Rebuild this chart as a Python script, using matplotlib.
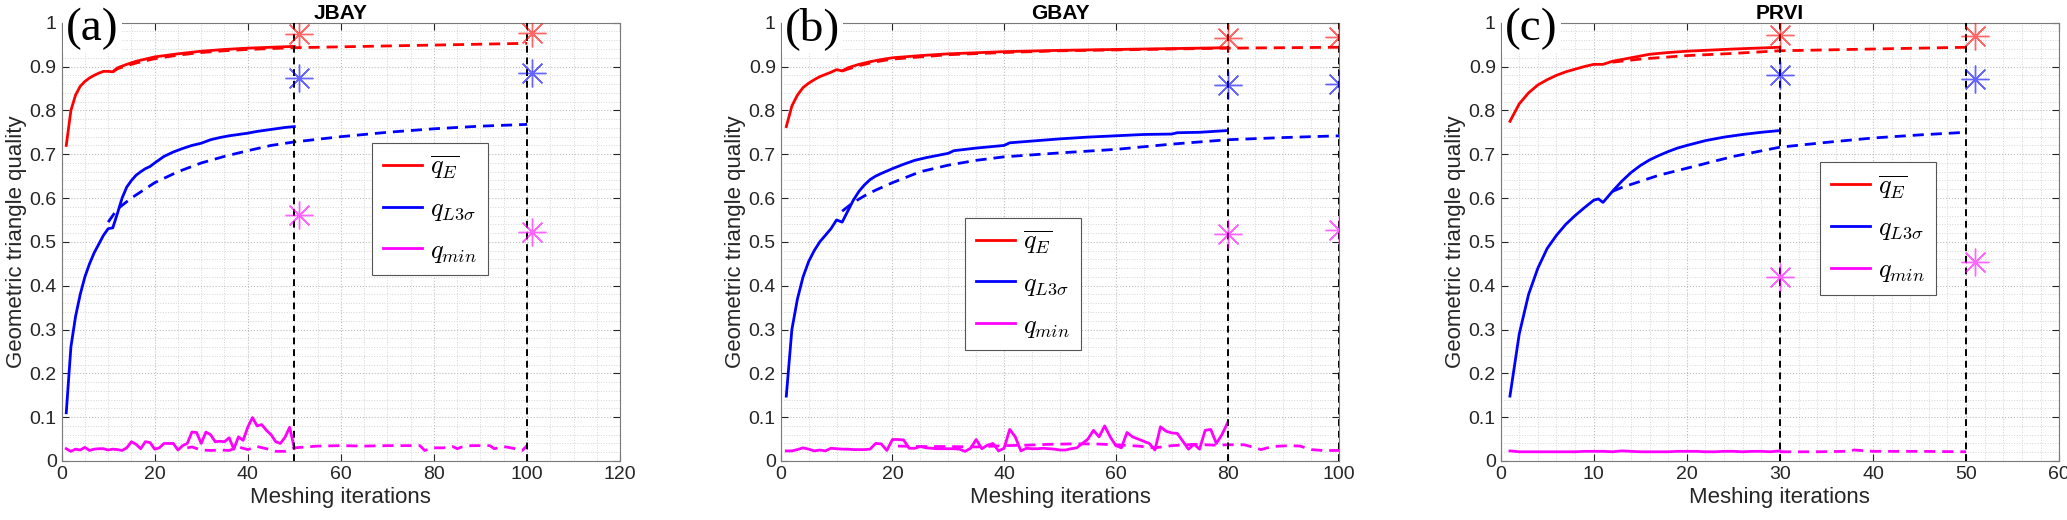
import matplotlib

matplotlib.use("Agg")
import matplotlib.pyplot as plt
import numpy as np
from matplotlib.ticker import MultipleLocator

plt.rcParams["font.family"] = ["Liberation Sans", "DejaVu Sans"]
plt.rcParams["mathtext.fontset"] = "cm"

# ---------------- (a) JBAY ----------------
A_E_X = [1, 2, 3, 4, 5, 6, 7, 8, 9, 10, 11, 12, 14, 16, 18, 20, 25, 30, 35, 40, 45, 50]
A_E_Y = [0.72, 0.80, 0.835, 0.855, 0.866, 0.874, 0.88, 0.885, 0.889, 0.889, 0.888, 0.897,
         0.905, 0.912, 0.917, 0.922, 0.929, 0.935, 0.939, 0.942, 0.944, 0.946]
A_E2_X = [11, 12, 14, 16, 18, 20, 25, 30, 35, 40, 45, 50, 60, 70, 80, 90, 100]
A_E2_Y = [0.888, 0.895, 0.902, 0.908, 0.913, 0.918, 0.926, 0.932, 0.936, 0.939, 0.941,
          0.943, 0.945, 0.947, 0.949, 0.951, 0.953]
A_L_X = [1, 2, 3, 4, 5, 6, 7, 8, 9, 10, 11, 12, 13, 14, 15, 16, 17, 18, 19, 20, 22, 24, 26,
         28, 30, 32, 34, 36, 38, 40, 42, 44, 46, 48, 50]
A_L_Y = [0.11, 0.26, 0.33, 0.38, 0.42, 0.45, 0.475, 0.495, 0.515, 0.53, 0.532, 0.565, 0.60,
         0.625, 0.64, 0.652, 0.66, 0.667, 0.672, 0.68, 0.695, 0.705, 0.713, 0.72, 0.725,
         0.733, 0.738, 0.742, 0.745, 0.748, 0.752, 0.755, 0.758, 0.761, 0.763]
A_L2_X = [10, 12, 15, 20, 25, 30, 35, 40, 45, 50, 60, 70, 80, 90, 100]
A_L2_Y = [0.545, 0.575, 0.60, 0.635, 0.66, 0.68, 0.695, 0.708, 0.72, 0.728, 0.74, 0.75,
          0.758, 0.764, 0.768]
A_M_Y = [0.028, 0.022, 0.027, 0.025, 0.031, 0.024, 0.027, 0.028, 0.028, 0.025,
         0.027, 0.026, 0.024, 0.030, 0.044, 0.038, 0.028, 0.044, 0.042, 0.027,
         0.030, 0.040, 0.040, 0.040, 0.025, 0.035, 0.040, 0.066, 0.065, 0.040,
         0.066, 0.060, 0.044, 0.045, 0.044, 0.053, 0.027, 0.055, 0.047, 0.077,
         0.099, 0.080, 0.083, 0.070, 0.060, 0.044, 0.040, 0.054, 0.077, 0.029]
A_M2_X = [27, 28, 30, 32, 34, 36, 38, 40, 42, 44, 46, 48, 50, 55, 60, 65, 70, 75, 77, 78,
          80, 82, 84, 85, 86, 88, 90, 92, 93, 95, 97, 99, 100]
A_M2_Y = [0.030, 0.032, 0.025, 0.024, 0.025, 0.024, 0.032, 0.026, 0.033, 0.028, 0.022,
          0.022, 0.030, 0.034, 0.035, 0.034, 0.035, 0.035, 0.035, 0.024, 0.030, 0.030,
          0.033, 0.028, 0.032, 0.035, 0.035, 0.035, 0.028, 0.033, 0.029, 0.024, 0.035]
A_STAR_X = [51, 101]
A_STAR_E = [0.974, 0.977]
A_STAR_L = [0.875, 0.886]
A_STAR_M = [0.561, 0.523]
A_VLINES = [50, 100]

# ---------------- (b) GBAY ----------------
B_E_X = [1, 2, 3, 4, 5, 6, 7, 8, 9, 10, 11, 12, 14, 16, 18, 20, 25, 30, 40, 50, 60, 70, 80]
B_E_Y = [0.763, 0.81, 0.835, 0.852, 0.862, 0.870, 0.877, 0.882, 0.887, 0.893, 0.89, 0.897,
         0.905, 0.911, 0.916, 0.92, 0.925, 0.929, 0.934, 0.937, 0.939, 0.941, 0.943]
B_E2_X = [11, 14, 16, 18, 20, 25, 30, 40, 50, 60, 70, 80, 90, 100]
B_E2_Y = [0.89, 0.902, 0.908, 0.913, 0.917, 0.922, 0.927, 0.932, 0.936, 0.938, 0.940,
          0.942, 0.943, 0.944]
B_L_X = [1, 2, 3, 4, 5, 6, 7, 8, 9, 10, 11, 12, 13, 14, 15, 16, 17, 18, 20, 22, 24, 26, 28,
         30, 31, 35, 40, 41, 45, 50, 55, 60, 65, 70, 71, 75, 80]
B_L_Y = [0.148, 0.30, 0.37, 0.42, 0.455, 0.48, 0.50, 0.515, 0.53, 0.55, 0.545, 0.57, 0.595,
         0.615, 0.63, 0.642, 0.65, 0.656, 0.667, 0.677, 0.686, 0.692, 0.697, 0.702, 0.708,
         0.714, 0.72, 0.726, 0.73, 0.735, 0.739, 0.742, 0.745, 0.746, 0.749, 0.75, 0.754]
B_L2_X = [11, 13, 15, 17, 20, 25, 30, 35, 40, 50, 60, 70, 80, 90, 100]
B_L2_Y = [0.57, 0.59, 0.605, 0.618, 0.635, 0.66, 0.675, 0.686, 0.694, 0.703, 0.711, 0.723,
          0.733, 0.738, 0.742]
B_M_Y = [0.023, 0.023, 0.026, 0.030, 0.027, 0.023, 0.025, 0.023, 0.029, 0.028,
         0.027, 0.027, 0.026, 0.026, 0.026, 0.027, 0.040, 0.039, 0.024, 0.049,
         0.049, 0.048, 0.029, 0.029, 0.033, 0.030, 0.029, 0.028, 0.028, 0.028,
         0.028, 0.027, 0.022, 0.029, 0.049, 0.028, 0.036, 0.040, 0.023, 0.029,
         0.072, 0.055, 0.023, 0.029, 0.028, 0.028, 0.029, 0.028, 0.027, 0.025,
         0.025, 0.028, 0.030, 0.040, 0.050, 0.070, 0.055, 0.080, 0.055, 0.035,
         0.030, 0.065, 0.055, 0.050, 0.045, 0.040, 0.025, 0.078, 0.068, 0.064,
         0.063, 0.045, 0.027, 0.038, 0.027, 0.070, 0.072, 0.040, 0.060, 0.087]
B_M2_X = [21, 25, 30, 35, 40, 44, 48, 52, 56, 60, 64, 67, 70, 74, 78, 80, 83, 85, 86, 88,
          91, 93, 95, 97, 100]
B_M2_Y = [0.034, 0.033, 0.033, 0.032, 0.035, 0.036, 0.038, 0.039, 0.039, 0.037, 0.034,
          0.030, 0.035, 0.038, 0.036, 0.037, 0.037, 0.030, 0.026, 0.033, 0.035, 0.034,
          0.026, 0.024, 0.024]
B_STAR_X = [80, 100]
B_STAR_E = [0.966, 0.968]
B_STAR_L = [0.858, 0.860]
B_STAR_M = [0.519, 0.527]
B_VLINES = [80, 100]

# ---------------- (c) PRVI ----------------
C_E_X = [1, 2, 3, 4, 5, 6, 7, 8, 9, 10, 11, 12, 14, 16, 18, 20, 25, 30]
C_E_Y = [0.775, 0.815, 0.84, 0.858, 0.87, 0.88, 0.888, 0.894, 0.9, 0.905, 0.905, 0.912,
         0.92, 0.928, 0.932, 0.935, 0.94, 0.944]
C_E2_X = [12, 15, 20, 25, 30, 35, 40, 45, 50]
C_E2_Y = [0.91, 0.917, 0.925, 0.93, 0.936, 0.938, 0.940, 0.942, 0.944]
C_L_X = [1, 2, 3, 4, 5, 6, 7, 8, 9, 10, 10.5, 11, 12, 13, 14, 15, 16, 17, 18, 19, 20, 22,
         24, 26, 28, 30]
C_L_Y = [0.148, 0.29, 0.38, 0.44, 0.485, 0.515, 0.54, 0.56, 0.578, 0.595, 0.598, 0.59,
         0.615, 0.638, 0.658, 0.674, 0.687, 0.697, 0.706, 0.714, 0.72, 0.731, 0.739,
         0.745, 0.75, 0.754]
C_L2_X = [12, 13, 15, 17, 20, 25, 30, 35, 40, 45, 50]
C_L2_Y = [0.615, 0.624, 0.638, 0.652, 0.668, 0.695, 0.716, 0.727, 0.737, 0.744, 0.75]
C_M_Y = [0.023, 0.021, 0.021, 0.021, 0.021, 0.021, 0.021, 0.021, 0.022, 0.022,
         0.022, 0.021, 0.023, 0.022, 0.021, 0.021, 0.021, 0.021, 0.022, 0.022,
         0.022, 0.021, 0.021, 0.022, 0.022, 0.021, 0.022, 0.022, 0.021, 0.023]
C_M2_X = [30, 34, 37, 38, 40, 45, 50]
C_M2_Y = [0.021, 0.021, 0.022, 0.025, 0.022, 0.022, 0.021]
C_STAR_X = [30, 51]
C_STAR_E = [0.972, 0.970]
C_STAR_L = [0.881, 0.872]
C_STAR_M = [0.420, 0.455]
C_VLINES = [30, 50]

TITLES = ["JBAY", "GBAY", "PRVI"]
PANEL_TAGS = ["(a)", "(b)", "(c)"]
X_LIMITS = [120, 100, 60]
X_MINOR = [5, 5, 2]
LEGEND_ANCHORS = [(0.556, 0.424), (0.33, 0.253), (0.572, 0.379)]

RED, BLUE, MAGENTA = "#ff0000", "#0000ff", "#ff00ff"
LABELS = [r"$\overline{q_E}$", r"$q_{L3\sigma}$", r"$q_{min}$"]


def draw_panel(ax, idx, e, e2, l, l2, m_y, m2, stars, vlines):
    lw = 2.0
    dash = (4, 2.5)
    ax.plot(e[0], e[1], color=RED, lw=lw, label=LABELS[0], zorder=4)
    ax.plot(l[0], l[1], color=BLUE, lw=lw, label=LABELS[1], zorder=4)
    ax.plot(np.arange(1, len(m_y) + 1), m_y, color=MAGENTA, lw=lw, label=LABELS[2], zorder=4)
    ax.plot(e2[0], e2[1], color=RED, lw=lw, ls=(0, dash), zorder=3)
    ax.plot(l2[0], l2[1], color=BLUE, lw=lw, ls=(0, dash), zorder=3)
    ax.plot(m2[0], m2[1], color=MAGENTA, lw=lw, ls=(0, dash), zorder=3)

    for xv in vlines:
        ax.axvline(xv, color="black", lw=1.4, ls=(0, (3.5, 2.5)), zorder=5)

    sx, se, sl, sm = stars
    for vals, col in ((se, RED), (sl, BLUE), (sm, MAGENTA)):
        ax.plot(sx, vals, ls="none", marker=(8, 2, 0), markersize=20,
                markeredgecolor=col, markeredgewidth=1.0, alpha=0.6, zorder=6)

    ax.set_xlim(0, X_LIMITS[idx])
    ax.set_ylim(0, 1)
    ax.xaxis.set_major_locator(MultipleLocator(20 if X_LIMITS[idx] > 60 else 10))
    ax.xaxis.set_minor_locator(MultipleLocator(X_MINOR[idx]))
    ax.yaxis.set_minor_locator(MultipleLocator(0.02))
    ax.set_yticks(np.arange(0, 1.01, 0.1))
    ax.set_yticklabels(["0", "0.1", "0.2", "0.3", "0.4", "0.5", "0.6", "0.7", "0.8", "0.9", "1"])

    ax.grid(which="major", color="#bdbdbd", lw=0.8, ls=":")
    ax.grid(which="minor", color="#d6d6d6", lw=0.7, ls=":")
    ax.set_axisbelow(True)
    ax.tick_params(which="major", direction="in", length=5, width=0.8, top=True, right=True,
                   labelsize=14, colors="#262626")
    ax.tick_params(which="minor", length=0)
    for sp in ax.spines.values():
        sp.set_color("#7a7a7a")
        sp.set_linewidth(0.8)

    ax.set_xlabel("Meshing iterations", fontsize=16, color="#262626", labelpad=3)
    ax.set_ylabel("Geometric triangle quality", fontsize=16, color="#262626", labelpad=2)
    ax.set_title(TITLES[idx], fontsize=15, fontweight="bold", pad=3)

    leg = ax.legend(loc="lower left", bbox_to_anchor=LEGEND_ANCHORS[idx], borderaxespad=0,
                    fontsize=19, handlelength=1.5, handletextpad=0.3, labelspacing=0.6,
                    borderpad=0.4, fancybox=False, framealpha=1, edgecolor="#555555")
    leg.get_frame().set_linewidth(0.8)
    leg.set_zorder(7)

    ax.text(0.008, 1.035, PANEL_TAGS[idx], transform=ax.transAxes, ha="left", va="top",
            fontsize=34, family=["Liberation Serif", "DejaVu Serif"], zorder=8,
            bbox=dict(facecolor="white", edgecolor="none", pad=2))


fig = plt.figure(figsize=(20.67, 5.2), dpi=100)
lefts = [0.0298, 0.3777, 0.7260]
axes = [fig.add_axes([x0, 0.1135, 0.2702, 0.8428]) for x0 in lefts]

draw_panel(axes[0], 0, (A_E_X, A_E_Y), (A_E2_X, A_E2_Y), (A_L_X, A_L_Y), (A_L2_X, A_L2_Y),
           A_M_Y, (A_M2_X, A_M2_Y), (A_STAR_X, A_STAR_E, A_STAR_L, A_STAR_M), A_VLINES)
draw_panel(axes[1], 1, (B_E_X, B_E_Y), (B_E2_X, B_E2_Y), (B_L_X, B_L_Y), (B_L2_X, B_L2_Y),
           B_M_Y, (B_M2_X, B_M2_Y), (B_STAR_X, B_STAR_E, B_STAR_L, B_STAR_M), B_VLINES)
draw_panel(axes[2], 2, (C_E_X, C_E_Y), (C_E2_X, C_E2_Y), (C_L_X, C_L_Y), (C_L2_X, C_L2_Y),
           C_M_Y, (C_M2_X, C_M2_Y), (C_STAR_X, C_STAR_E, C_STAR_L, C_STAR_M), C_VLINES)

fig.savefig("out.png", dpi=100)
